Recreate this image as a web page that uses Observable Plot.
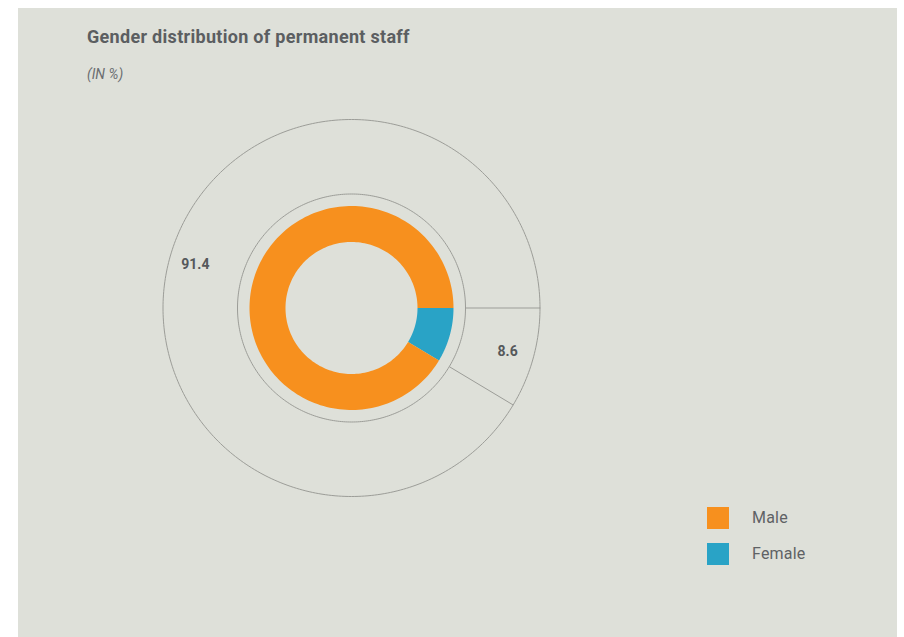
<!DOCTYPE html>
<html>
<head>
<meta charset="utf-8">
<script src="https://cdn.jsdelivr.net/npm/d3@7"></script>
<script src="https://cdn.jsdelivr.net/npm/@observablehq/plot@0.6"></script>
<style>
  html, body { margin: 0; padding: 0; background: #ffffff; }
  #panel { position: absolute; left: 18px; top: 8px; width: 879px; height: 629px; background: #dee0d9; overflow: hidden; font-family: Roboto, "Open Sans", sans-serif; }
  #title { position: absolute; left: 69px; top: 18px; font-size: 18px; font-weight: 700; letter-spacing: 0.3px; color: #5b5e61; white-space: nowrap; }
  #subtitle { position: absolute; left: 69px; top: 58px; font-size: 14px; font-style: italic; color: #6b6e71; }
  #chart { position: absolute; left: 0; top: 0; }
  .legend { position: absolute; left: 689px; font-size: 16px; color: #5f6265; }
  .legend .sw { position: absolute; left: 0; top: 0; width: 22px; height: 22px; }
  .legend .lb { position: absolute; left: 45px; top: 1px; white-space: nowrap; letter-spacing: 0.2px; }
</style>
</head>
<body>
<div id="panel">
  <div id="chart"></div>
  <div id="title">Gender distribution of permanent staff</div>
  <div id="subtitle">(IN %)</div>
  <div id="legend"></div>
</div>
<script>
// ---- data ----
const categories = ["Female", "Male"];
const values = [8.6, 91.4];
const colors = ["#29a3c6", "#f7901e"];
const legendOrder = ["Male", "Female"];

// ---- layout (unit = outer circle radius) ----
const W = 879, H = 629;
const cx = 333, cy = 299.5, R = 188.5;
const rHole = 66 / R, rDonut = 102 / R, rRing = 114 / R, rOuter = 1, rLabel = 162 / R;

const total = d3.sum(values);
let acc = 0;
const slices = categories.map((c, i) => {
  const a0 = -acc / total * 2 * Math.PI;
  acc += values[i];
  const a1 = -acc / total * 2 * Math.PI;
  return {category: c, value: values[i], color: colors[i], a0, a1, mid: (a0 + a1) / 2};
});

const N = 180;
const wedgePts = [];
for (const s of slices) {
  for (let k = 0; k <= N; k++) {
    const a = s.a0 + (s.a1 - s.a0) * k / N;
    wedgePts.push({category: s.category, x: rDonut * Math.cos(a), y: rDonut * Math.sin(a)});
  }
  for (let k = N; k >= 0; k--) {
    const a = s.a0 + (s.a1 - s.a0) * k / N;
    wedgePts.push({category: s.category, x: rHole * Math.cos(a), y: rHole * Math.sin(a)});
  }
}

const circlePts = [];
for (const [name, r] of [["ring", rRing], ["outer", rOuter]]) {
  for (let k = 0; k <= 360; k++) {
    const a = k / 360 * 2 * Math.PI;
    circlePts.push({name, x: r * Math.cos(a), y: r * Math.sin(a)});
  }
}

const dividers = slices.map(s => ({
  x1: rRing * Math.cos(s.a0), y1: rRing * Math.sin(s.a0),
  x2: rOuter * Math.cos(s.a0), y2: rOuter * Math.sin(s.a0)
}));

const labels = slices.map(s => ({
  x: rLabel * Math.cos(s.mid), y: rLabel * Math.sin(s.mid),
  text: String(s.value)
}));

const chart = Plot.plot({
  width: W, height: H,
  margin: 0,
  style: {background: "transparent", overflow: "visible"},
  x: {domain: [-cx / R, (W - cx) / R], range: [0, W], axis: null},
  y: {domain: [-(H - cy) / R, cy / R], range: [H, 0], axis: null},
  color: {domain: categories, range: colors},
  marks: [
    Plot.line(circlePts, {x: "x", y: "y", z: "name", stroke: "#9c9d98", strokeWidth: 1}),
    Plot.link(dividers, {x1: "x1", y1: "y1", x2: "x2", y2: "y2", stroke: "#9c9d98", strokeWidth: 1}),
    Plot.line(wedgePts, {x: "x", y: "y", z: "category", fill: "category", stroke: "none"}),
    Plot.text(labels, {x: "x", y: "y", text: "text", fill: "#55585b", fontSize: 14, fontWeight: "bold", fontFamily: "Roboto, sans-serif"})
  ]
});
document.getElementById("chart").appendChild(chart);

// legend
const leg = document.getElementById("legend");
legendOrder.forEach((c, i) => {
  const d = document.createElement("div");
  d.className = "legend";
  d.style.top = (499 + i * 36) + "px";
  const sw = document.createElement("div");
  sw.className = "sw";
  sw.style.background = colors[categories.indexOf(c)];
  const lb = document.createElement("div");
  lb.className = "lb";
  lb.textContent = c;
  d.appendChild(sw); d.appendChild(lb);
  leg.appendChild(d);
});
</script>
</body>
</html>
